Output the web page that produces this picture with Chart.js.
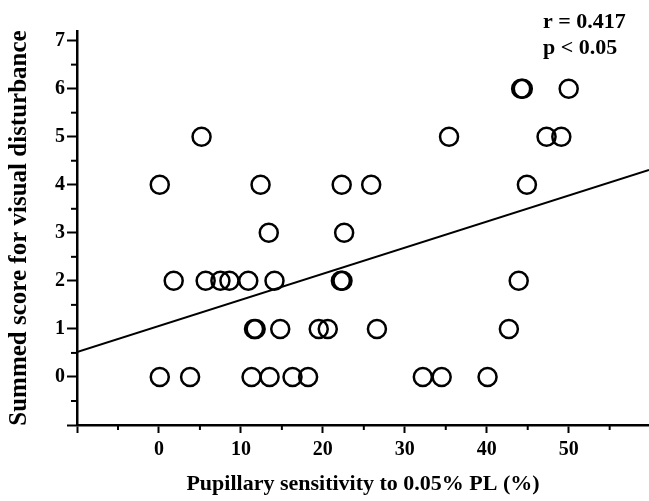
<!DOCTYPE html>
<html>
<head>
<meta charset="utf-8">
<script src="https://cdn.jsdelivr.net/npm/chart.js@4"></script>
<style>
  html, body { margin: 0; padding: 0; background: #fff; overflow: hidden; }
  #wrap { width: 649px; height: 501px; position: relative; }
  #scatter { display: block; }
</style>
</head>
<body>
<div id="wrap"><canvas id="scatter"></canvas></div>
<script>
'use strict';

/* ── Data ── */
const sensitivity = [
    0.1, 3.8, 11.3, 13.5, 16.3, 18.2, 32.2, 34.5, 40.1,
    11.6, 11.8, 14.8, 19.5, 20.6, 26.6, 42.7,
    1.8, 5.7, 7.5, 8.6, 10.9, 14.1, 22.2, 22.4, 43.9,
    13.4, 22.6,
    0.1, 12.4, 22.3, 25.9, 44.9,
    5.2, 35.4, 47.3, 49.1,
    44.2, 44.4, 50.0,
];
const score = [
    0, 0, 0, 0, 0, 0, 0, 0, 0,
    1, 1, 1, 1, 1, 1, 1,
    2, 2, 2, 2, 2, 2, 2, 2, 2,
    3, 3,
    4, 4, 4, 4, 4,
    5, 5, 5, 5,
    6, 6, 6,
];
const fitX = [-10, 59.8];
const fitY = [0.52, 4.31];
const statLines = ['r = 0.417', 'p < 0.05'];
const xTitle = 'Pupillary sensitivity to 0.05% PL (%)';
const yTitle = 'Summed score for visual disturbance';

const SERIF = '"Liberation Serif", "DejaVu Serif", serif';
const INK = '#000';

/* ── Minor ticks halfway between the major ones ── */
const minorTicks = {
    id: 'minorTicks',
    afterDraw(chart) {
        const ctx = chart.ctx;
        ctx.save();
        ctx.strokeStyle = INK;
        ctx.lineWidth = 2;
        const xs = chart.scales.x, ys = chart.scales.y;
        const xStep = xs.ticks[1].value - xs.ticks[0].value;
        xs.ticks.forEach(t => {
            const v = t.value + xStep / 2;
            if (v >= xs.max) return;
            const px = xs.getPixelForValue(v);
            ctx.beginPath(); ctx.moveTo(px, xs.top); ctx.lineTo(px, xs.top + 5); ctx.stroke();
        });
        const yStep = ys.ticks[1].value - ys.ticks[0].value;
        ys.ticks.forEach(t => {
            const v = t.value + yStep / 2;
            if (v >= ys.max) return;
            const py = ys.getPixelForValue(v);
            ctx.beginPath(); ctx.moveTo(ys.right, py); ctx.lineTo(ys.right - 6, py); ctx.stroke();
        });
        ctx.restore();
    },
};

/* ── r / p annotation, top right ── */
const statText = {
    id: 'statText',
    afterDraw(chart) {
        const ctx = chart.ctx, area = chart.chartArea;
        ctx.save();
        ctx.fillStyle = INK;
        ctx.font = 'bold 22px ' + SERIF;
        ctx.textAlign = 'left';
        ctx.textBaseline = 'middle';
        statLines.forEach((s, i) => ctx.fillText(s, area.right - 106, area.top - 9 + i * 26));
        ctx.restore();
    },
};

new Chart(document.getElementById('scatter'), {
    type: 'scatter',
    data: {
        datasets: [
            {
                label: 'subjects',
                data: sensitivity.map((x, i) => ({ x, y: score[i] })),
                pointStyle: 'circle',
                pointRadius: 9,
                pointHoverRadius: 9,
                borderColor: INK,
                backgroundColor: 'rgba(0,0,0,0)',
                borderWidth: 2.5,
            },
            {
                type: 'line',
                label: 'fit',
                data: fitX.map((x, i) => ({ x, y: fitY[i] })),
                borderColor: INK,
                borderWidth: 2,
                pointRadius: 0,
                fill: false,
            },
        ],
    },
    options: {
        responsive: true,
        maintainAspectRatio: false,
        animation: false,
        devicePixelRatio: 1,
        layout: { autoPadding: false, padding: { top: 31, right: 0, left: 0, bottom: 0 } },
        plugins: { legend: { display: false }, tooltip: { enabled: false } },
        scales: {
            x: {
                type: 'linear',
                min: -10,
                max: 59.8,
                afterFit: s => { s.height = 76; s.paddingLeft = 0; s.paddingRight = 0; },
                border: { display: true, color: INK, width: 2.5 },
                grid: { drawOnChartArea: false, drawTicks: true, tickLength: 8, tickColor: INK, tickWidth: 2 },
                ticks: {
                    stepSize: 10,
                    includeBounds: false,
                    maxRotation: 0,
                    padding: 5,
                    color: INK,
                    font: { family: SERIF, size: 20, weight: 'bold' },
                    callback: v => (v < 0 ? '' : String(v)),
                },
                title: {
                    display: true,
                    text: xTitle,
                    color: INK,
                    font: { family: SERIF, size: 22, weight: 'bold' },
                    padding: { top: 0, bottom: 3 },
                },
            },
            y: {
                type: 'linear',
                min: -1,
                max: 7.2,
                afterFit: s => { s.width = 77; },
                border: { display: true, color: INK, width: 2.5 },
                grid: { drawOnChartArea: false, drawTicks: true, tickLength: 10, tickColor: INK, tickWidth: 2 },
                ticks: {
                    stepSize: 1,
                    includeBounds: false,
                    padding: 2,
                    color: INK,
                    font: { family: SERIF, size: 20, weight: 'bold' },
                    callback: v => (v < 0 ? '' : String(v)),
                },
                title: {
                    display: true,
                    text: yTitle,
                    color: INK,
                    font: { family: SERIF, size: 25, weight: 'bold' },
                    padding: { top: 5, bottom: 0 },
                },
            },
        },
    },
    plugins: [minorTicks, statText],
});
</script>
</body>
</html>
